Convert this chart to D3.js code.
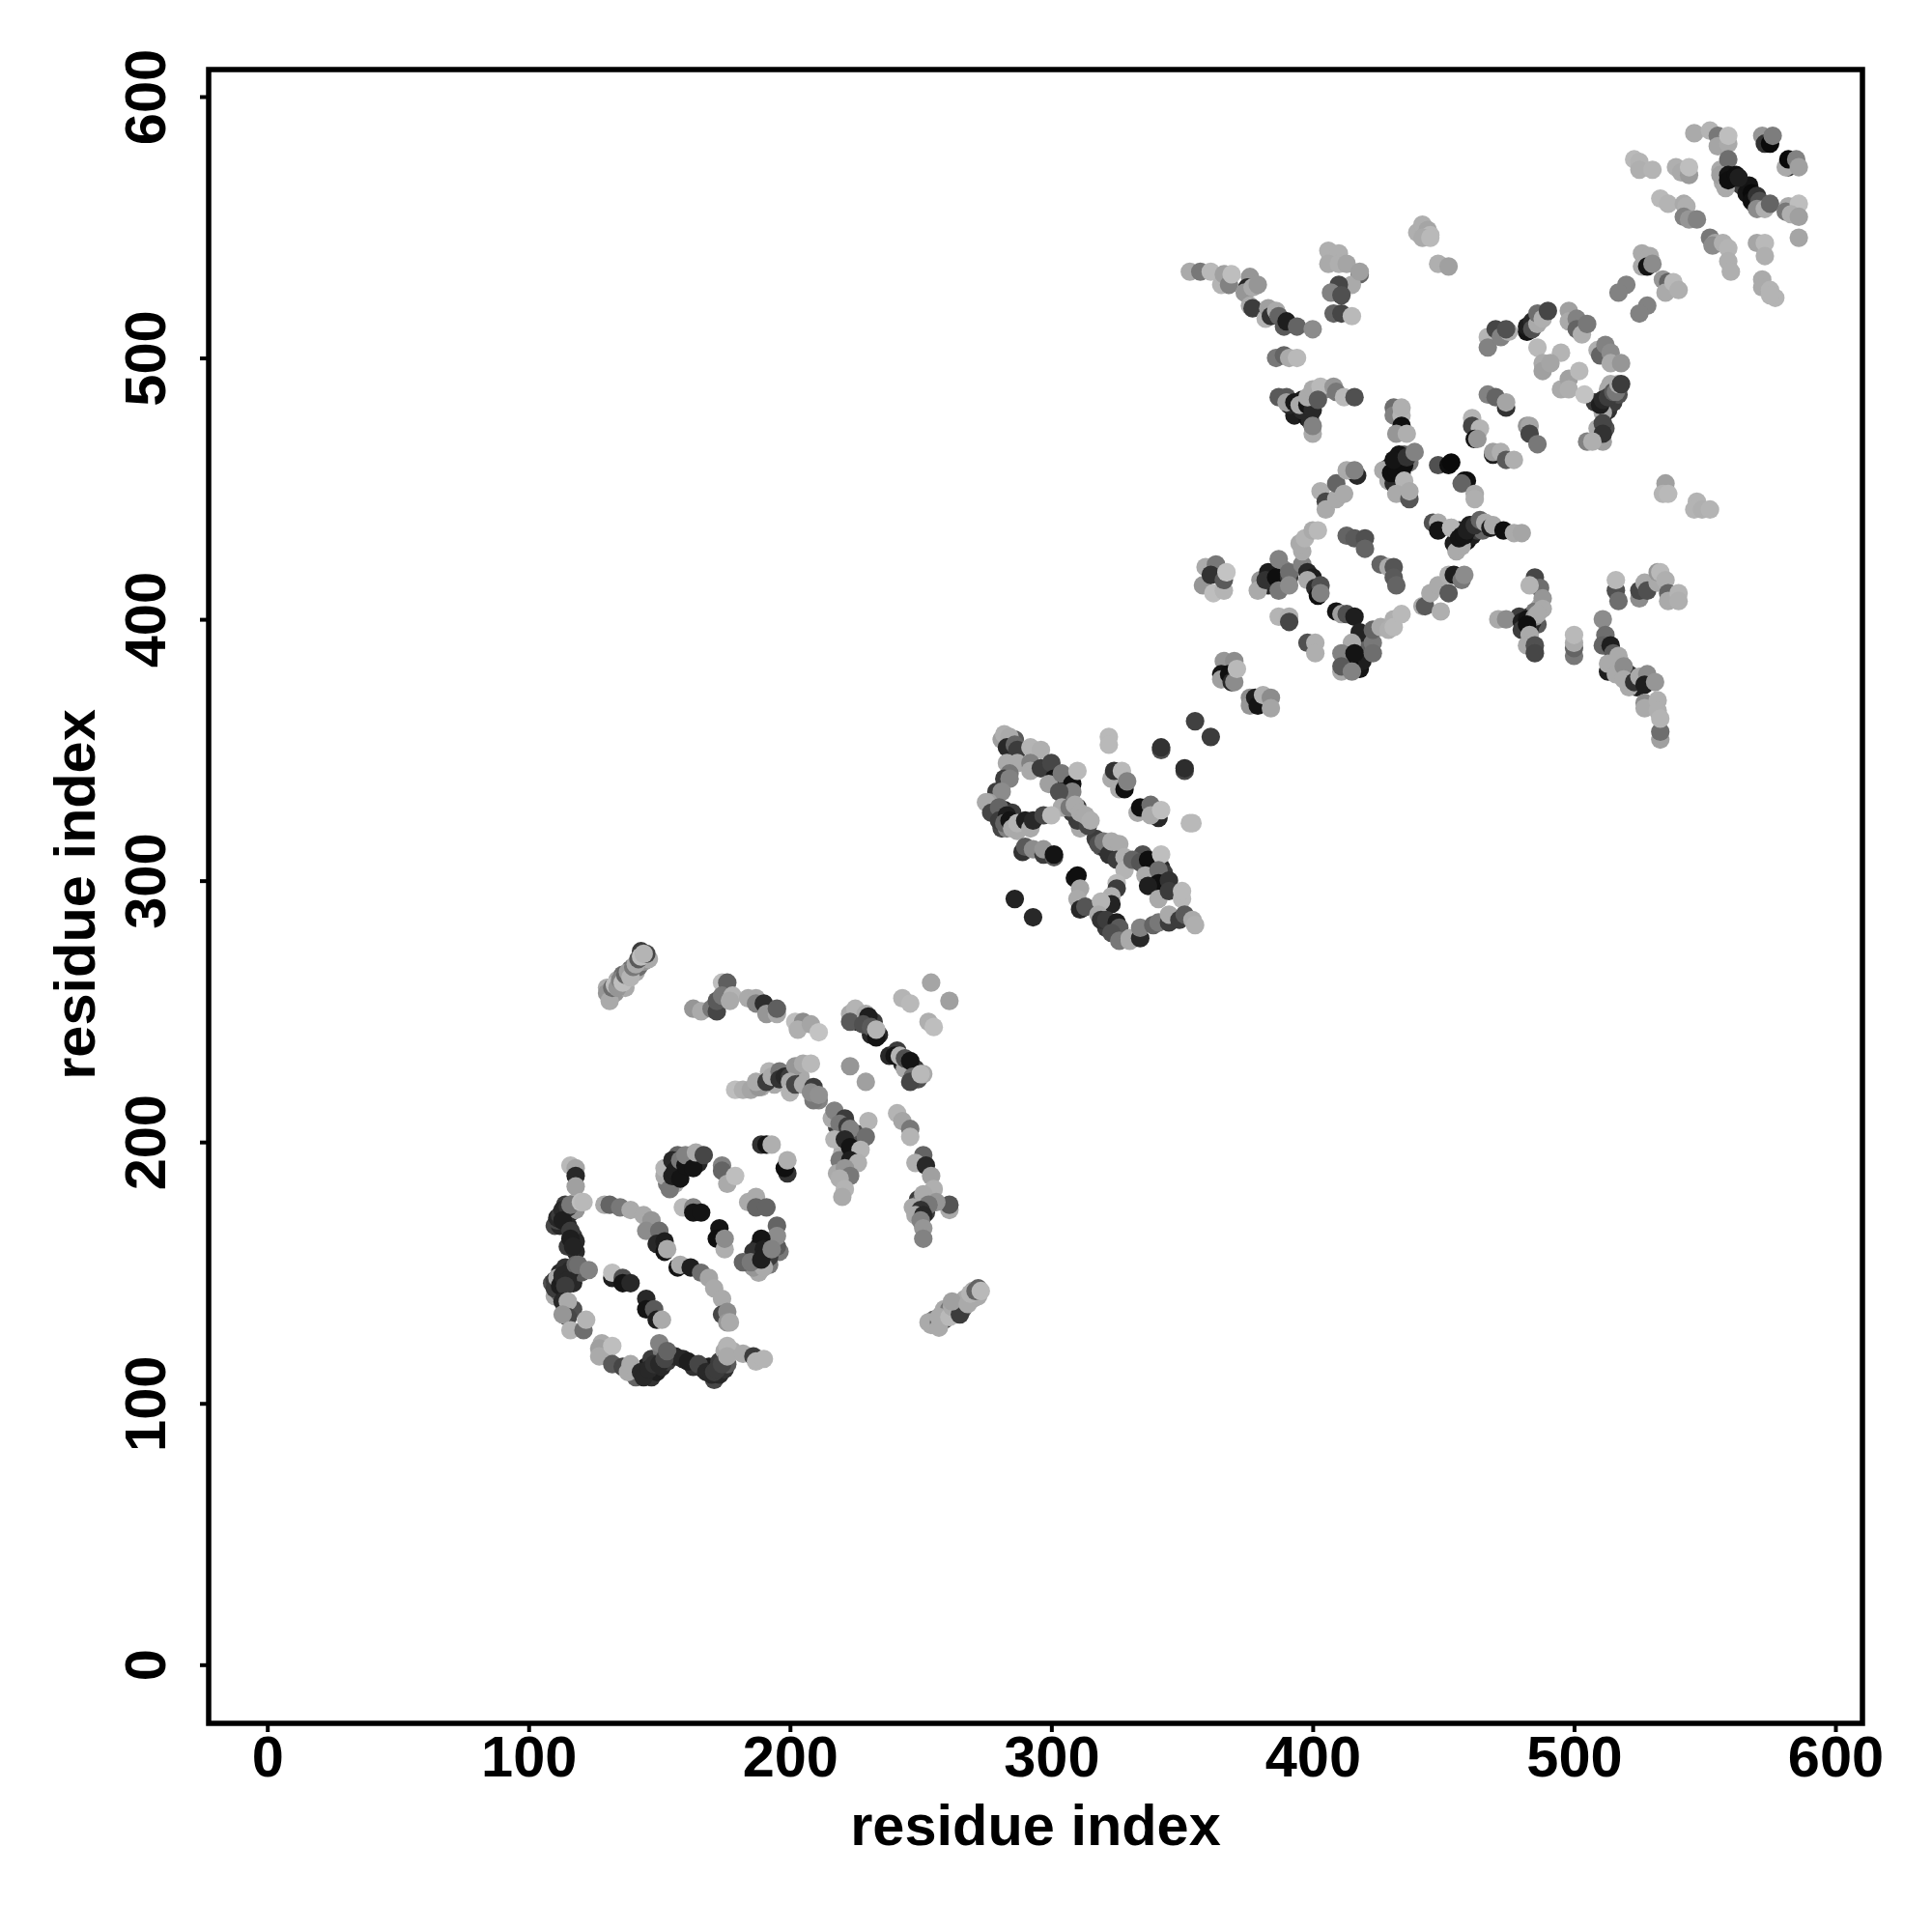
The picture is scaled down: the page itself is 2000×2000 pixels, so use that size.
<!DOCTYPE html>
<html><head><meta charset="utf-8"><style>html,body{margin:0;background:#fff}svg{display:block}</style>
<script src="https://cdn.jsdelivr.net/npm/d3@7"></script></head><body><div id="c"></div>
<script>
const tickValues=[0,100,200,300,400,500,600];
const axisTitle="residue index";
// each contact: [residue i, residue j, grey level]
const blockA=[[130,257,150],[131,254,170],[132,259,110],[133,260,190],[134,259,150],[135,262,130],[136,261,190],[137,264,100],[138,265,160],[139,263,180],[140,267,120],[141,268,170],[142,270,90],[143,271,190],[145,272,70],[144,272,180],
[163,251,150],[166,250,170],[170,251,120],[172,250,70],[172,254,90],[174,261,190],[176,261,95],[174,256,120],[178,256,180],[177,254,170],[184,255,170],[187,255,170],[187,253,130],[190,253,45],[191,249,150],[195,249,170],[195,251,95],[202,246,190],[205,246,140],[203,243,175],[208,245,165],[211,242,195],
[179,220,190],[182,220,175],[185,220,165],[188,221,150],[187,223,170],[192,227,180],[191,223,60],[193,225,170],[196,227,120],[196,224,50],[198,225,40],[200,225,60],[202,229,150],[205,230,170],[208,230,185],[200,223,170],[200,219,180],[202,222,70],[205,222,170],[209,216,120],[209,221,60],[208,219,140],[211,218,145],
[216,209,170],[217,212,130],[221,209,60],[219,207,120],[217,201,180],[222,206,60],[223,205,130],[221,201,40],[230,208,180],[229,202,110],[223,198,20],[227,197,180],[223,193,30],[226,192,175],[221,190,150],[223,187,120],[219,186,175],[221,182,180],[220,179,170],
[254,261,165],[261,254,160],[243,255,180],[246,253,185],[253,246,175],[255,244,190],[223,229,150],[229,223,160],
[223,249,170],[225,251,180],[223,246,90],[229,249,170],[230,248,30],[228,245,80],[231,244,90],[233,240,20],[233,243,180],
[240,233,20],[242,233,180],[244,232,80],[246,231,20],[247,225,110],[246,223,70],[250,226,185],
[241,211,180],[243,208,165],[246,205,120],[246,202,180],[251,195,100],[248,192,175],[252,191,40],[254,187,160],[255,182,175],[251,180,170],[261,174,170],[261,176,85],[256,177,150],[253,176,120],[250,174,50],[248,172,170],[251,172,40],[250,170,130],[251,167,150],[251,163,130],
[253,131,170],[257,131,100],[257,129,170],[257,133,170],[261,133,185],[262,137,170],[265,134,60],[262,139,160],[268,138,170],[269,142,180],[271,143,100],[273,143,185]];
const blockB=[[116,191,185],[118,190,165],[118,187,40],[118,183,160],[111,170,70],[111,171,40],[112,172,60],[113,174,40],[115,175,50],[113,170,30],[116,176,120],[120,177,190],[121,177,185],[116,166,60],[116,163,30],[117,160,35],
[110,144,60],[111,148,170],[112,145,30],[113,147,30],[115,149,50],[116,151,40],[113,149,40],[118,153,100],[119,153,110],[123,151,130],[115,147,40],[114,145,60],
[113,139,40],[115,139,170],[115,133,70],[113,134,150],[116,128,180],[121,128,110],[122,132,180],
[129,176,170],[131,176,100],[135,175,120],[139,174,170],[144,172,170],[147,170,150],[145,166,140],[150,166,110],[149,161,40],[152,162,30],[152,158,20],[153,159,170],
[157,152,20],[158,153,170],[162,152,30],[166,150,110],[169,148,165],[171,144,170],[174,140,170],[174,134,70],[176,135,140],[176,131,150],[177,131,170],
[132,148,30],[132,150,190],[136,148,80],[136,146,20],[139,146,40],[145,140,40],[145,136,20],[148,136,90],[149,132,30],[151,132,170],
[127,121,160],[127,118,170],[132,122,190],[132,115,90],[136,114,70],[138,112,170],[139,115,170],
[143,112,40],[144,110,40],[146,113,40],[148,115,50],[150,115,40],[152,117,70],[150,123,130],[153,120,100],
[159,117,40],[161,116,30],[165,115,70],[168,112,40],[170,111,40],[171,112,60],[172,113,60],[174,115,70],[176,122,180],[176,118,170],[182,119,170],[186,118,60],[187,116,180],[190,117,180],
[152,190,180],[154,182,120],[155,193,40],[155,187,30],[156,189,30],[158,193,120],[158,186,20],[160,191,20],[160,195,130],[163,190,20],[164,196,170],[167,195,70],
[174,191,130],[174,189,100],[176,184,170],[179,187,190],[189,199,50],[191,199,20],[193,199,175],[199,188,50],[198,190,15],[199,193,175],
[184,177,170],[187,179,170],[187,175,100],[191,175,100],
[159,175,185],[163,175,130],[163,173,20],[166,173,20],[173,167,20],[172,163,15],[175,159,175],[175,163,140],
[195,168,100],[195,160,90],[195,164,140],[189,163,20],[186,158,50],[192,156,60],[190,159,30],[190,152,170],[182,154,100],[185,154,120],[189,155,30],[193,159,130]];
const blockC=[[286,293,35],[293,286,40],[355,361,65],[361,355,60],[342,350,80],[342,351,50],[351,342,70],[351,343,45],[322,355,185],[322,352,185],[353,322,185],[354,322,185],
[281,354,160],[282,356,175],[284,355,170],[283,351,40],[286,352,100],[287,350,60],[292,351,180],[296,350,175],[283,345,170],[287,345,170],[284,341,120],[282,339,60],[284,339,130],[279,334,60],[281,334,140],[276,330,160],
[292,345,130],[292,342,170],[296,343,60],[300,345,70],[301,339,20],[299,337,160],[304,341,120],[308,337,15],[310,342,185],[308,334,130],[303,334,80],[310,323,60],[308,326,60],[304,328,170],[307,328,120],[309,329,170],[311,326,170],[314,321,70],[313,325,170],[315,323,175],
[275,330,170],[277,326,70],[280,328,100],[280,323,60],[283,325,30],[282,322,100],[284,323,20],[285,320,170],[287,319,170],[287,322,180],[290,323,30],[292,320,170],[293,323,40],[297,325,70],[300,325,185],
[289,311,50],[290,313,90],[293,312,140],[297,310,60],[297,312,150],[301,309,90],[301,310,20],
[309,301,20],[310,302,15],[311,297,165],[310,293,170],[311,289,40],[313,290,85],
[318,314,80],[320,315,120],[322,310,50],[323,315,170],[326,314,170],[325,308,60],[328,309,175],[328,304,180],[331,308,100],[334,307,85],[337,308,15],[342,310,190],[336,302,170],[341,304,110],[341,299,15],[337,298,30],[345,300,50],[341,293,170],[345,296,60],[350,293,185],[350,296,185],
[325,299,185],[325,297,60],[323,294,175],[323,291,35],[319,292,180],[318,287,170],[319,285,50],[321,285,60],[325,284,30],[326,282,90],[323,280,80],[326,277,120],[330,277,170],[330,278,170],[334,278,40],[334,282,130],[339,283,100],[341,284,120],[345,284,60],[345,287,170],[349,285,60],[351,287,90],[354,285,170],[355,283,175],
[323,339,170],[324,342,50],[327,342,185],[326,335,170],[328,335,15],[329,338,130],[333,326,170],[334,328,15],[338,329,110],[341,324,40],[338,325,170],[342,327,190]];
const blockD=[[359,420,170],[363,421,120],[358,413,150],[361,417,50],[362,410,190],[366,411,180],[366,415,90],[367,418,195],
[366,384,150],[370,384,140],[365,379,20],[365,377,160],[368,379,15],[369,376,40],[370,376,140],[371,381,185],
[376,370,140],[376,367,150],[378,370,30],[379,367,20],[381,371,175],[384,370,140],[384,366,165],
[380,415,150],[379,411,170],[383,418,30],[382,415,50],[386,416,15],[387,411,120],[387,423,130],[391,416,60],[391,418,110],[391,413,140],[396,421,130],[396,426,170],[395,429,170],[397,431,180],[398,418,40],[400,416,30],[400,434,170],[402,434,185],[398,415,170],[401,412,45],[403,413,80],[402,409,15],[403,410,130],
[387,401,180],[391,401,175],[391,399,70],[398,391,80],[401,391,175],[401,387,175],
[409,403,20],[411,402,160],[413,402,80],[416,401,30],[418,395,35],[415,391,170],[419,384,30],[414,383,15],[411,387,130],[411,380,170],[411,382,90],[415,380,130],[416,387,20],[423,391,120],[423,387,110],[423,396,100],[426,397,170],[429,396,175],[431,400,175],[431,397,185],[434,402,185],
[413,432,100],[416,431,90],[420,431,80],[420,427,100],[426,421,100],[429,420,170],[431,420,85],[431,416,90],[432,413,100],
[442,405,170],[443,405,90],[445,410,170],[448,413,170],[449,403,175],[452,410,90],[452,417,175],[454,417,30],[457,415,120],[458,417,140],
[403,449,175],[405,445,70],[405,442,170],[409,446,170],[409,452,100],[412,448,170],[417,455,40],[413,457,170],[416,457,130],
[427,457,170],[430,456,15],[432,457,15],[435,459,15],[433,463,20],[431,461,20],[436,462,50],[435,453,180],[432,448,170],[437,446,85],[437,449,170],[431,481,110],[431,478,130],[434,478,180],[434,481,175],[434,474,15],[432,471,150],[436,471,175],[439,464,130],
[446,437,80],[448,437,170],[448,434,20],[453,435,175],[448,459,80],[452,459,15],[458,453,15],[453,460,10],[459,453,15],[457,452,100],[462,448,170],[462,446,175],
[453,435,180],[457,428,170],[457,432,30],[456,431,20],[458,432,20],[459,434,30],[462,436,50],[464,438,100],[466,437,170],[468,435,30],[469,436,170],[473,434,15],[477,433,170],[480,433,165]];
const blockE=[[353,533,170],[357,533,120],[361,533,185],[365,528,180],[366,532,160],[368,528,130],[369,532,190],[376,531,150],[375,527,40],[374,525,150],[376,520,170],[377,527,170],[379,528,150],[377,519,60],[382,515,180],[383,519,160],[384,516,50],[386,518,170],[387,516,100],[389,512,90],[390,514,30],[394,512,100],[400,511,140],
[406,541,175],[410,540,175],[406,536,170],[410,536,175],[413,536,165],[418,532,100],[415,528,170],[418,533,160],[410,528,70],[407,525,130],[411,524,80],[408,517,100],[411,517,70],[415,516,185],
[386,500,120],[389,501,100],[391,500,170],[394,500,185],
[387,485,90],[390,485,90],[390,483,160],[393,483,25],[396,480,40],[395,482,170],[398,482,20],[400,480,40],[398,485,170],[400,488,170],[403,489,185],[402,484,90],[408,489,150],[409,487,120],[412,485,185],[416,485,80],[400,471,170],[400,474,130],
[440,548,175],[442,551,175],[444,549,165],[445,547,185],[442,546,170],[445,546,185],[448,536,175],[452,535,160]];
const blockF=[[520,528,130],[517,525,130],[528,520,130],[525,517,130],[526,540,170],[529,539,170],[526,535,170],[528,535,20],[530,536,140],
[534,530,150],[536,529,100],[535,525,170],[538,529,185],[540,526,175],
[467,508,180],[467,504,130],[470,511,70],[472,508,130],[475,510,175],[474,511,80],
[482,510,20],[482,512,30],[484,514,40],[484,511,80],[486,513,170],[486,517,110],[488,515,175],[490,518,70],
[498,518,160],[498,514,170],[501,515,130],[501,511,100],[503,509,175],[505,513,120],
[509,503,175],[510,501,100],[512,505,130],[514,502,140],[514,498,170],[518,498,150],
[486,504,185],[495,502,180],[488,498,170],[488,495,160],[491,498,165],[495,488,170],[498,492,160],[498,488,175],[502,495,185],[504,486,195],
[513,488,170],[510,482,30],[511,484,40],[513,485,60],[515,487,90],[516,487,120],[517,490,170],[518,490,60],
[509,473,170],[511,475,70],[511,471,50],[505,468,130],[507,468,175],
[535,452,160],[534,448,180],[536,448,185],[547,445,180],[546,442,180],[549,442,175],[552,442,180],
[467,486,130],[470,485,100],[474,481,50],[474,483,165],[461,477,180],[461,474,70],[464,473,180],[462,469,20],[463,469,150],
[482,474,150],[483,474,165],[483,471,70],[486,467,120],[469,463,30],[469,464,160],[472,464,175],[474,461,90],[477,461,175],
[485,416,70],[487,412,110],[483,413,180],[488,408,150],[488,404,170],[471,400,170],[474,400,140],
[480,399,30],[482,400,20],[484,399,40],[480,396,60],[485,401,150],[486,402,170],[482,398,15],[483,394,170],[482,390,170],[485,390,80],[485,387,70],
[500,386,120],[500,389,100],[500,391,170],[500,394,185],
[516,411,80],[517,407,110],[516,415,185],[525,408,140],[525,411,70],[527,414,170],[528,411,80],[532,414,170],[532,418,150],[533,418,185],[535,415,175],[536,410,100],[536,407,170],[540,410,180],[540,407,175],
[511,400,140],[512,394,110],[511,390,100],[514,390,30],[515,387,90],[513,383,170],[517,386,170],[516,379,170],[519,382,140],[519,377,170],[523,376,50],[525,378,170],[528,379,140],[527,375,30],[531,376,150],
[527,368,140],[527,366,170],[533,354,160],[533,357,110],[532,369,175],[532,365,175],[533,362,180]];
const blockG=[[546,586,170],[552,587,180],[555,585,120],[555,581,165],[559,582,170],[559,585,190],
[572,585,150],[573,582,50],[575,582,10],[576,585,125],[582,573,60],[581,573,170],[582,576,10],[585,576,130],[586,573,160],
[556,572,170],[559,576,110],[556,570,160],[559,570,20],[559,568,15],[562,570,15],[563,569,30],
[568,563,10],[568,560,15],[570,562,50],[571,560,80],[570,557,140],[573,557,175],[575,559,100],
[582,558,170],[581,556,120],[586,559,190],[583,555,175],[586,554,160],[586,546,165],
[523,576,185],[525,575,180],[525,572,175],[530,572,180],[539,573,175],[541,571,170],[544,570,155],[544,573,190],
[533,561,185],[536,559,180],[542,559,170],[543,558,175],[542,554,130],[544,553,150],[547,553,130],
[552,546,120],[554,544,165],[553,543,140],[557,544,175],[559,542,180],[559,537,175],[560,533,175],
[570,544,165],[573,544,185],[573,539,175],[572,530,170],[572,527,170],[575,526,180],[577,523,180],[575,524,180]];
const blockH=[[131,257,60],[130,259,170],[133,257,150],[134,262,170],[136,264,110],[137,259,170],[139,266,60],[141,265,170],[142,267,110],[144,269,150],[146,270,170],[143,273,60],
[254,130,170],[255,132,100],[258,134,140],[259,132,60],[259,136,170],[261,136,120],[263,135,170],[264,137,140],[266,139,150],[266,136,90],[267,140,170],[270,140,170],[270,143,170],[272,141,170],[272,144,100],
[110,168,70],[112,168,40],[112,170,30],[114,172,30],[114,169,50],[116,173,40],[117,175,40],[114,176,60],[118,174,150],[118,177,170],[115,168,40],[117,164,60],[118,162,40],[118,158,40],[115,160,60],
[109,146,80],[110,147,60],[111,143,100],[112,150,40],[114,152,50],[116,148,30],[117,150,30],[119,152,70],[117,146,40],[110,141,170],[112,142,100],[120,150,90],[114,136,60],[117,136,80],
[140,113,60],[141,110,100],[145,114,30],[147,110,50],[149,112,30],[151,114,40],[147,117,60],[153,116,60],[151,120,120],[167,113,50],[169,114,30],[171,109,70],[173,111,40],[175,113,50],[173,116,60],[176,115,90],[175,120,170],[178,120,170],[156,118,40],[163,114,50],[130,120,170],[128,123,170],
[155,190,60],[157,190,30],[157,195,100],[158,188,40],[161,192,30],[162,194,100],[165,192,40],[153,184,120],[152,187,170],[156,184,170],
[191,155,30],[188,160,40],[191,162,60],[193,162,90],[188,150,170],[186,152,150],[196,158,120],[192,153,120],[186,155,60],
[225,248,60],[226,246,40],[228,247,40],[230,245,50],[232,246,60],[231,241,40],[234,241,40],[238,233,40],[241,235,60],[243,230,40],[245,229,20],[248,228,60],[249,224,80],[251,226,170],[244,228,170],
[196,226,60],[198,223,40],[201,226,60],[194,222,170],[189,221,170],[211,216,130],[204,225,170],
[218,206,60],[221,205,40],[223,196,40],[220,196,170],[219,193,120],[218,188,170],[221,186,170],[224,196,120],[226,203,80],
[249,178,60],[251,176,50],[253,178,60],[255,177,140],[252,173,60],[250,177,100],[247,175,170],
[278,330,80],[279,327,60],[282,327,40],[285,326,60],[281,320,70],[283,320,130],[285,322,40],[283,354,140],[285,350,50],[286,354,90],[300,341,40],[302,336,30],[306,332,40],[310,328,60],[312,322,60],[313,322,120],[311,320,170],
[317,316,60],[319,313,90],[321,312,40],[323,311,80],[326,310,170],[320,289,50],[321,282,60],[323,283,40],[325,280,120],[318,290,80],[335,310,80],[339,305,20],[342,305,40],[339,301,30],[343,303,60],
[384,416,30],[383,413,40],[388,414,30],[389,419,130],[433,455,15],[431,458,20],[434,461,30],[429,453,170],[431,452,40],[435,463,100],[434,456,30],[429,458,40],[437,460,120],
[459,430,20],[454,429,30],[456,434,40],[461,432,30],[463,434,60],[460,436,30],[455,426,170],[465,434,100],
[481,398,15],[483,401,30],[486,398,90],[483,396,40],[487,405,170],[485,403,120],[479,401,60],
[512,482,40],[513,480,50],[515,483,60],[517,486,80],[511,479,170],[514,490,170],[508,483,60],[509,469,170],[511,468,160],[512,473,80],
[561,570,20],[560,567,10],[564,566,60],[566,563,20],[567,566,20],[569,559,60],[557,567,170],[558,565,170],
[395,480,20],[393,478,30],[398,477,20],[396,484,30],[400,484,100],[391,482,40],[399,476,40],[405,488,130],
[413,385,20],[415,384,30],[418,381,20],[412,381,170],[417,390,30],[419,391,60],[420,388,100],
[513,380,30],[518,383,150],[521,379,50],[524,374,30],[521,374,170]];
const contacts=[...blockH,...blockB,...blockA,...blockC,...blockD,...blockE,...blockF,...blockG];

const W=2000,H=2000,boxL=216,boxR=1928,boxT=72,boxB=1784;
const x=d3.scaleLinear().domain([0,600]).range([276.7,1900]);
const y=d3.scaleLinear().domain([0,600]).range([1723.3,100]);
const font='"Liberation Sans",Arial,sans-serif';
const svg=d3.select('#c').append('svg').attr('width',W).attr('height',H).attr('viewBox',[0,0,W,H]);
svg.append('rect').attr('width',W).attr('height',H).attr('fill','#fff');
svg.append('g').selectAll('circle').data(contacts).join('circle')
 .attr('cx',d=>x(d[0])).attr('cy',d=>y(d[1])).attr('r',9.6)
 .attr('fill',d=>d3.rgb(d[2],d[2],d[2]));
svg.append('rect').attr('x',boxL).attr('y',boxT).attr('width',boxR-boxL).attr('height',boxB-boxT)
 .attr('fill','none').attr('stroke','#000').attr('stroke-width',5.5);
const xa=svg.append('g').attr('transform',`translate(0,${boxB})`)
 .call(d3.axisBottom(x).tickValues(tickValues).tickSize(9).tickPadding(0).tickFormat(d3.format('d')));
const ya=svg.append('g').attr('transform',`translate(${boxL},0)`)
 .call(d3.axisLeft(y).tickValues(tickValues).tickSize(9).tickPadding(0).tickFormat(d3.format('d')));
[xa,ya].forEach(a=>{a.select('.domain').remove();a.selectAll('line').attr('stroke','#000').attr('stroke-width',4);
 a.selectAll('text').attr('fill','#000').attr('font-family',font).attr('font-weight','700').attr('font-size',59.5);});
xa.selectAll('text').attr('y',55).attr('dy',0).attr('text-anchor','middle');
ya.selectAll('text').attr('x',0).attr('y',0).attr('dy',0).attr('text-anchor','middle')
 .attr('transform','translate(-45,0) rotate(-90)');
svg.append('text').attr('x',1072).attr('y',1910).attr('text-anchor','middle').attr('font-family',font).attr('font-weight','700').attr('font-size',59.5).text(axisTitle);
svg.append('text').attr('transform','translate(98,926) rotate(-90)').attr('text-anchor','middle').attr('font-family',font).attr('font-weight','700').attr('font-size',59.5).text(axisTitle);
</script></body></html>
